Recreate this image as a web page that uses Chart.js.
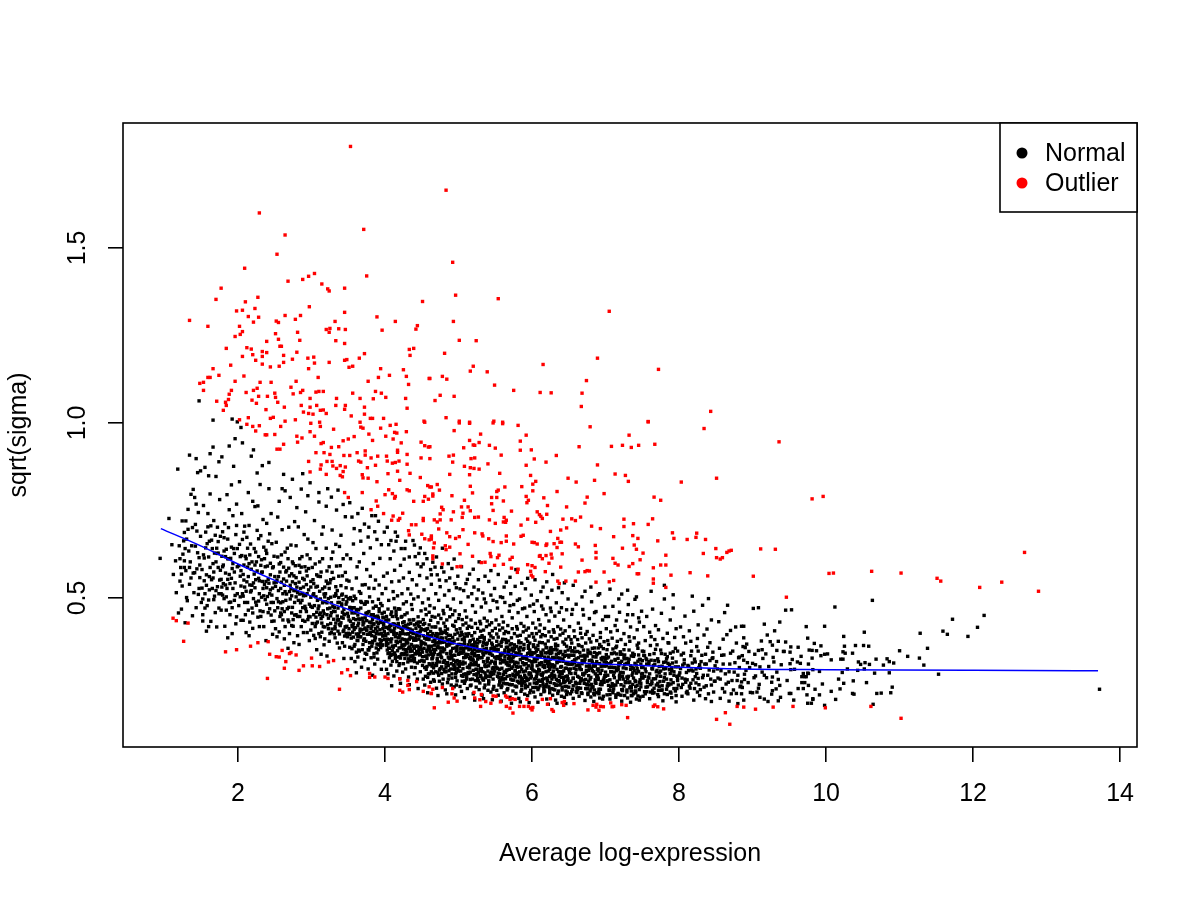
<!DOCTYPE html>
<html>
<head>
<meta charset="utf-8">
<script src="https://cdn.jsdelivr.net/npm/chart.js@4.4.0/dist/chart.umd.min.js"></script>
<style>
  html, body { margin: 0; padding: 0; background: #fff; }
  canvas { display: block; }
</style>
</head>
<body>
<canvas id="plot" width="1200" height="900"></canvas>
<script>
// axis ticks and labels
const xTicks = [2, 4, 6, 8, 10, 12, 14];
const xTickLabels = ['2', '4', '6', '8', '10', '12', '14'];
const yTicks = [0.5, 1.0, 1.5];
const yTickLabels = ['0.5', '1.0', '1.5'];
const seriesNames = ['Normal', 'Outlier'];

// lowess trend
const trendX = [0.95, 1.5, 2.0, 2.5, 3.0, 3.5, 4.0, 4.6, 5.3, 6.0, 6.65, 7.35, 8.0, 8.85, 10.0, 12.0, 13.7];
const trendY = [0.698, 0.648, 0.597, 0.55, 0.505, 0.467, 0.432, 0.389, 0.353, 0.331, 0.315, 0.308, 0.302, 0.297, 0.295, 0.293, 0.292];

// red points: [average log-expression, sqrt(sigma)]
const outlierPts = [
[3.53,1.79],[2.29,1.60],[3.71,1.553],[2.64,1.537],[2.53,1.482],[2.09,1.442],[3.75,1.42],[1.77,1.385],[2.68,1.405],[2.88,1.41],
[2.96,1.419],[3.04,1.427],[3.14,1.397],[3.22,1.383],[3.24,1.377],[3.45,1.385],[1.70,1.353],[2.27,1.359],[2.10,1.346],[4.51,1.347],
[1.34,1.293],[1.59,1.276],[1.98,1.32],[2.06,1.322],[2.23,1.327],[2.14,1.304],[2.28,1.302],[2.21,1.288],[2.02,1.276],[2.06,1.261],
[1.96,1.247],[2.03,1.253],[2.97,1.332],[2.64,1.307],[2.85,1.307],[2.78,1.296],[2.52,1.291],[2.55,1.287],[3.45,1.316],[3.89,1.303],
[4.14,1.29],[3.32,1.29],[3.20,1.267],[3.25,1.27],[3.37,1.269],[3.46,1.267],[3.24,1.259],[3.96,1.265],[4.42,1.268],[4.44,1.278],
[2.81,1.259],[2.51,1.255],[2.55,1.239],[2.84,1.236],[2.39,1.233],[3.33,1.235],[3.45,1.227],[2.57,1.219],[2.59,1.219],[1.84,1.213],
[2.12,1.215],[2.18,1.211],[2.33,1.204],[2.39,1.201],[2.20,1.195],[2.06,1.19],[2.33,1.19],[2.62,1.193],[2.80,1.202],[2.24,1.179],
[2.74,1.182],[2.95,1.185],[3.03,1.188],[3.24,1.173],[3.45,1.179],[3.48,1.181],[3.65,1.185],[3.72,1.198],[4.33,1.21],[4.39,1.213],
[4.34,1.193],[1.90,1.165],[2.33,1.168],[2.44,1.16],[2.56,1.162],[2.62,1.173],[3.04,1.171],[2.96,1.155],[3.51,1.159],[3.56,1.162],
[3.94,1.155],[4.25,1.152],[1.66,1.155],[1.74,1.136],[1.59,1.13],[1.62,1.13],[2.08,1.134],[1.96,1.119],[2.30,1.116],[2.45,1.116],
[2.79,1.119],[3.09,1.13],[3.91,1.13],[4.06,1.136],[4.29,1.133],[4.60,1.127],[3.77,1.119],[4.32,1.11],[1.48,1.113],[1.53,1.116],
[1.53,1.093],[1.91,1.093],[1.88,1.082],[1.87,1.067],[1.83,1.059],[1.84,1.05],[1.80,1.036],[1.71,1.062],[2.21,1.093],[2.26,1.099],
[2.11,1.087],[2.19,1.065],[2.25,1.056],[2.28,1.076],[2.40,1.076],[2.50,1.085],[2.51,1.073],[2.54,1.059],[2.72,1.102],[2.75,1.083],
[2.85,1.087],[2.88,1.093],[3.06,1.088],[3.10,1.09],[3.16,1.09],[2.98,1.07],[2.86,1.05],[2.98,1.045],[3.07,1.05],[2.63,1.045],
[2.38,1.038],[2.89,1.031],[2.96,1.027],[3.02,1.025],[3.12,1.036],[3.16,1.037],[3.20,1.027],[3.34,1.07],[3.33,1.05],[3.46,1.05],
[3.45,1.039],[3.56,1.085],[3.66,1.07],[3.72,1.045],[3.72,1.025],[3.84,1.069],[3.87,1.09],[3.95,1.085],[4.01,1.073],[4.28,1.07],
[4.30,1.042],[3.54,1.02],[3.80,1.013],[3.83,1.013],[3.98,1.013],[4.53,1.005],[2.02,1.009],[2.14,1.015],[2.44,1.013],[2.48,1.016],
[2.64,1.005],[2.78,1.009],[3.11,1.002],[3.66,1.002],
[4.83,1.665],[4.92,1.459],[4.96,1.365],[5.54,1.355],[7.05,1.319],[4.93,1.29],[5.01,1.236],[5.24,1.235],[4.81,1.199],[6.89,1.185],
[5.20,1.162],[5.16,1.148],[5.39,1.146],[6.15,1.167],[7.72,1.153],[4.61,1.127],[4.78,1.133],[4.84,1.125],[5.49,1.108],[5.75,1.093],
[6.11,1.087],[6.26,1.086],[6.74,1.121],[6.68,1.085],[6.67,1.047],[4.75,1.079],[4.94,1.076],[4.68,1.064],[8.43,1.033],[4.83,1.015],
[5.01,1.005],[5.15,1.002],[5.48,1.005],[5.60,1.002],[7.58,1.004],
[2.12,.996],[2.20,.99],[2.29,.992],[2.37,.966],[2.39,.966],[2.50,.967],[2.58,.99],[2.24,.977],[2.80,.962],[2.87,.957],
[2.81,.945],[2.98,.975],[3.04,.962],[2.99,.999],[3.12,.99],[3.16,.944],[3.13,.941],[3.30,.982],[3.43,.949],[3.50,.954],
[3.58,.961],[3.67,.988],[3.70,.985],[3.78,.968],[3.83,.95],[3.94,.985],[4.01,.962],[4.07,.993],[4.15,.996],[4.13,.973],
[4.16,.971],[4.29,.975],[4.11,.954],[4.22,.943],[4.49,.945],[4.54,.935],[4.59,.931],[4.54,1.002],[2.53,.925],[2.57,.925],
[2.62,.939],[3.06,.915],[3.17,.915],[3.25,.91],[3.37,.932],[3.27,.93],[3.44,.907],[3.52,.907],[3.62,.915],[3.73,.92],
[3.73,.908],[3.81,.9],[3.90,.905],[4.02,.905],[4.03,.891],[4.10,.885],[4.14,.887],[4.19,.891],[4.17,.922],[4.17,.916],
[4.30,.91],[4.30,.882],[4.49,.9],[2.96,.89],[2.98,.86],[3.13,.88],[3.12,.868],[3.21,.89],[3.28,.89],[3.20,.853],
[3.29,.877],[3.34,.87],[3.39,.878],[3.46,.874],[3.43,.861],[3.39,.85],[3.42,.846],[3.64,.891],[3.67,.888],[3.69,.852],
[3.70,.843],[3.77,.842],[3.89,.832],[3.76,.872],[3.87,.879],[4.04,.855],[4.17,.862],[4.20,.836],[4.34,.856],[4.48,.844],
[4.58,.821],[4.61,.817],[4.05,.809],[4.0,.795],[4.10,.798],[4.14,.79],[4.13,.785],[4.30,.809],[4.33,.806],[4.54,.79],
[4.52,.776],[4.59,.782],[3.45,.801],[3.50,.787],[3.69,.801],[3.88,.777],[3.90,.762],[3.81,.752],[4.39,.776],[3.98,.741],
[4.11,.734],[4.09,.722],[4.18,.722],[4.20,.727],[4.24,.742],[4.52,.727],[4.52,.721],[4.36,.709],[4.42,.709],[4.32,.692],
[4.33,.68],[4.50,.682],[4.54,.669],[4.63,.672],[4.60,.666],
[1.116,.442],[1.16,.435],[1.32,.428],[1.26,.376],[1.83,.346],[1.98,.352],[2.17,.362],[2.27,.372],[2.41,.375],[2.43,.339],
[2.52,.332],[2.56,.331],[2.60,.35],[2.70,.341],[2.72,.344],[2.79,.337],[2.65,.318],[2.63,.299],[2.40,.27],[2.83,.293],
[2.89,.306],[3.0,.328],[3.01,.306],[3.11,.304],[3.23,.317],[3.30,.321],[3.38,.239],[3.41,.286],[3.49,.295],[3.53,.278],
[3.79,.284],[3.86,.274],[3.79,.273],[4.0,.274],[4.04,.27],[4.20,.269],[4.31,.264],[4.31,.25],[4.43,.261],[4.20,.236],
[4.24,.231],[4.33,.238],[4.52,.233],[4.60,.246],[4.63,.227],
[5.01,1.0],[5.15,.999],[5.47,1.0],[5.60,.998],[5.81,.993],[4.94,.978],[5.30,.968],[5.92,.965],[6.79,.989],[7.58,1.003],
[8.34,.984],[7.32,.965],[5.15,.95],[5.28,.944],[5.22,.936],[5.20,.937],[5.42,.936],[5.50,.928],[5.84,.948],[5.84,.922],
[5.99,.923],[5.07,.929],[6.64,.932],[7.08,.933],[7.23,.936],[7.35,.93],[7.45,.936],[7.67,.939],[4.87,.905],[4.93,.908],
[4.92,.888],[5.17,.898],[5.22,.9],[5.58,.908],[6.03,.897],[6.19,.888],[6.33,.907],[5.08,.876],[5.16,.872],[5.21,.87],
[5.28,.868],[5.40,.883],[5.92,.879],[6.89,.88],[4.88,.853],[5.15,.852],[5.56,.856],[5.98,.85],[7.13,.854],[7.27,.85],
[7.31,.833],[6.49,.842],[6.60,.831],[6.85,.836],[6.05,.833],[6.01,.825],[8.03,.831],[8.51,.842],[4.71,.824],[4.63,.817],
[4.74,.808],[4.65,.797],[4.65,.791],[4.91,.792],[5.16,.819],[5.19,.80],[5.08,.779],[5.45,.787],[5.52,.787],[5.54,.808],
[5.52,.804],[5.45,.769],[5.47,.75],[5.61,.777],[5.63,.817],[5.86,.818],[6.01,.806],[5.92,.79],[5.95,.779],[5.93,.772],
[6.16,.786],[6.21,.764],[6.34,.804],[6.47,.76],[6.72,.771],[6.75,.788],[6.98,.798],[7.66,.788],[7.75,.779],[4.77,.759],
[4.79,.752],[4.75,.74],[4.75,.723],[4.67,.723],[4.71,.717],[4.61,.932],[4.61,.898],[4.93,.746],[5.04,.76],[5.06,.742],
[5.05,.73],[4.90,.723],[5.16,.749],[5.13,.76],[5.22,.73],[5.27,.731],[5.42,.723],[5.62,.73],[5.64,.716],[5.61,.717],
[5.65,.722],[5.72,.748],[5.50,.713],[5.85,.708],[5.94,.725],[6.05,.716],[6.07,.746],[6.12,.733],[6.14,.727],[6.20,.739],
[6.10,.738],[6.42,.725],[6.54,.726],[6.59,.721],[6.66,.731],[6.47,.70],[6.25,.69],[6.39,.694],[6.81,.705],[6.93,.698],
[7.25,.704],[7.25,.725],[7.38,.712],[7.58,.71],[7.64,.726],[4.73,.697],[4.84,.686],[4.63,.677],[4.63,.668],[4.96,.67],
[5.01,.675],[4.88,.675],[5.06,.695],[5.22,.686],[5.32,.683],[5.33,.677],[5.41,.669],[5.47,.661],[5.65,.677],[5.58,.658],
[5.65,.662],[5.85,.676],[5.88,.679],[5.75,.654],[6.0,.659],[6.03,.658],[6.07,.654],[6.19,.65],[6.20,.654],[6.30,.655],
[6.35,.67],[6.38,.659],[6.40,.659],[6.34,.644],[6.59,.654],[6.63,.646],[6.86,.65],[7.11,.675],[7.37,.678],[7.44,.67],
[7.39,.651],[7.42,.639],[7.23,.642],[7.71,.663],[7.91,.686],[7.93,.67],[8.11,.667],[8.24,.685],[8.23,.673],[8.36,.667],
[8.50,.641],[8.33,.627],[8.51,.615],[8.56,.611],[8.59,.615],[8.65,.63],[8.68,.634],[8.71,.636],[4.82,.649],[4.83,.638],
[4.67,.657],[4.66,.643],[4.88,.645],[5.02,.626],[5.13,.653],[5.19,.619],[5.31,.601],[5.36,.602],[5.43,.627],[5.44,.618],
[5.53,.615],[5.55,.622],[5.49,.593],[5.61,.596],[5.70,.61],[5.73,.616],[5.72,.585],[5.81,.582],[5.80,.573],[5.94,.595],
[6.0,.592],[6.04,.587],[5.98,.576],[5.99,.565],[6.01,.56],[6.10,.619],[6.11,.621],[6.19,.621],[6.14,.612],[6.23,.599],
[6.27,.614],[6.26,.625],[6.41,.626],[6.39,.588],[6.18,.575],[6.35,.548],[6.37,.541],[6.46,.548],[6.59,.548],[6.63,.574],
[6.72,.575],[6.75,.578],[6.78,.577],[6.68,.608],[6.87,.63],[6.87,.614],[6.98,.574],[6.87,.545],[7.05,.546],[7.11,.55],
[7.10,.613],[7.13,.599],[7.17,.594],[7.32,.59],[7.37,.598],[7.43,.569],[7.45,.569],[7.51,.628],[7.47,.609],[7.65,.586],
[7.65,.554],[7.65,.542],[7.75,.594],[7.82,.594],[7.82,.622],[7.89,.565],[7.82,.53],[8.15,.572],[8.39,.563],[4.65,.612],
[4.65,.62],[4.78,.597],[4.98,.589],[5.03,.59],
[4.65,.239],[4.63,.227],[4.78,.244],[4.67,.186],[4.91,.226],[4.92,.241],[4.94,.214],[4.98,.205],[4.86,.202],[5.21,.23],
[5.22,.214],[5.31,.224],[5.29,.209],[5.30,.19],[5.37,.204],[5.44,.199],[5.47,.22],[5.51,.219],[5.57,.203],[5.64,.22],
[5.66,.216],[5.65,.19],[5.70,.185],[5.74,.171],[5.73,.212],[5.70,.21],[5.77,.21],[5.83,.19],[5.89,.19],[5.95,.19],
[5.98,.185],[6.0,.18],[6.01,.187],[5.93,.21],[6.14,.21],[6.21,.196],[6.25,.212],[6.27,.181],[6.29,.176],[6.41,.201],
[6.44,.204],[6.57,.198],[6.43,.193],[6.76,.18],[6.83,.193],[6.88,.196],[6.87,.188],[6.91,.179],[6.93,.19],[6.97,.189],
[7.07,.2],[7.11,.19],[7.09,.189],[7.22,.195],[7.28,.193],[7.30,.158],[7.65,.19],[7.67,.194],[7.71,.189],[7.79,.183],
[8.51,.153],[8.63,.172],[8.69,.139],[8.79,.19],
[9.36,.946],[9.81,.783],[9.96,.79],[9.11,.64],[9.31,.639],[9.01,.562],[9.46,.502],[10.04,.57],[10.10,.571],[10.62,.576],
[11.02,.571],[11.51,.556],[11.56,.548],[12.09,.53],[12.39,.545],[12.70,.63],[12.89,.519],[8.88,.188],[9.04,.182],[9.28,.188],
[9.55,.19],[9.99,.186],[10.61,.19],[11.02,.156]
];

// black points: [average log-expression, sqrt(sigma)]
const normalPts = [
[.94,.613],[1.06,.727],[1.10,.652],[1.12,.567],[1.18,.868],[1.15,.606],[1.16,.515],[1.21,.548],[1.23,.468],[1.24,.72],
[1.27,.687],[1.30,.668],[1.32,.753],[1.25,.625],[1.27,.587],[1.34,.539],[1.38,.449],[1.39,.81],[1.41,.787],[1.43,.768],
[1.46,.744],[1.42,.71],[1.37,.649],[1.44,.691],[1.47,.615],[1.41,.572],[1.48,.558],[1.46,.51],[1.50,.487],[1.43,.472],
[1.34,.587],[1.30,.501],[1.23,.568],[1.20,.649],[1.29,.72],[1.36,.796],[1.49,.863],[1.34,.908],[1.43,.898],[1.27,.606],
[1.52,.434],[1.60,.418],[1.47,1.063],[1.66,1.008],[1.92,1.011],[1.99,1.003],[1.45,.858],[1.55,.873],[1.19,.457],[1.28,.429],
[1.52,.452],[1.55,.512],[1.58,.478],[1.61,.561],[1.63,.433],[1.66,.598],[1.68,.505],[1.71,.642],[1.74,.471],[1.77,.553],
[1.79,.689],[1.82,.419],[1.85,.527],[1.87,.612],[1.9,.488],[1.93,.735],[1.95,.574],[1.98,.446],[1.53,.623],[1.56,.688],
[1.59,.741],[1.62,.797],[1.64,.665],[1.67,.721],[1.7,.847],[1.72,.532],[1.75,.781],[1.78,.619],[1.81,.498],[1.83,.571],
[1.86,.668],[1.88,.752],[1.91,.823],[1.94,.641],[1.96,.507],[1.99,.589],[1.54,.549],[1.57,.405],[1.6,.494],[1.65,.527],
[1.69,.458],[1.73,.587],[1.76,.676],[1.8,.541],[1.84,.465],[1.89,.541],[1.92,.398],[1.97,.681],[1.51,.581],[1.58,.655],
[1.63,.706],[1.67,.574],[1.71,.417],[1.74,.512],[1.78,.903],[1.82,.712],[1.86,.386],[1.9,.613],[1.94,.876],[1.98,.768],
[1.53,.764],[1.6,.849],[1.66,.931],[1.72,.702],[1.77,.465],[1.81,.634],[1.85,.795],[1.89,.452],[1.93,.527],[1.97,.426],
[1.55,.471],[1.61,.523],[1.68,.628],[1.75,.551],[1.79,.589],[1.84,.503],[1.88,.567],[1.92,.584],[1.96,.955],[1.99,.512],
[1.62,.912],[1.74,.889],[1.88,.934],
[2.01,.478],[2.03,.562],[2.05,.621],[2.07,.436],[2.09,.705],[2.11,.519],[2.13,.588],[2.15,.392],[2.17,.654],[2.19,.471],
[2.21,.543],[2.23,.761],[2.25,.603],[2.27,.445],[2.29,.512],[2.31,.678],[2.33,.574],[2.35,.418],[2.37,.495],[2.39,.627],
[2.41,.553],[2.43,.469],[2.45,.741],[2.47,.586],[2.49,.434],[2.02,.832],[2.04,.987],[2.06,.512],[2.08,.594],[2.1,.452],
[2.12,.673],[2.14,.801],[2.16,.537],[2.18,.582],[2.2,.413],[2.22,.641],[2.24,.488],[2.26,.857],[2.28,.556],[2.3,.463],
[2.32,.609],[2.34,.724],[2.36,.538],[2.38,.378],[2.4,.591],[2.42,.812],[2.44,.523],[2.46,.655],[2.48,.487],[2.5,.561],
[2.02,.653],[2.05,.741],[2.08,.688],[2.11,.401],[2.14,.465],[2.17,.517],[2.2,.776],[2.23,.529],[2.26,.693],[2.29,.418],
[2.32,.502],[2.35,.645],[2.38,.547],[2.41,.458],[2.44,.599],[2.47,.396],[2.03,.503],[2.07,.567],[2.1,.619],[2.13,.487],
[2.16,.431],[2.19,.603],[2.22,.568],[2.25,.479],[2.28,.618],[2.31,.447],[2.34,.527],[2.37,.589],[2.4,.504],[2.43,.683],
[2.46,.433],[2.49,.619],[2.04,.436],[2.09,.531],[2.15,.707],[2.21,.923],[2.27,.763],[2.33,.878],[2.39,.713],[2.45,.487],
[2.06,.943],[2.18,.905],[2.3,.824],[2.42,.887],
[2.51,.412],[2.53,.498],[2.55,.561],[2.57,.447],[2.59,.623],[2.61,.512],[2.63,.383],[2.65,.574],[2.67,.469],[2.69,.702],
[2.71,.536],[2.73,.421],[2.75,.598],[2.77,.487],[2.79,.649],[2.81,.392],[2.83,.545],[2.85,.461],[2.87,.618],[2.89,.506],
[2.91,.433],[2.93,.577],[2.95,.668],[2.97,.482],[2.99,.531],[2.52,.659],[2.54,.731],[2.56,.403],[2.58,.527],[2.6,.469],
[2.62,.588],[2.64,.806],[2.66,.511],[2.68,.437],[2.7,.563],[2.72,.651],[2.74,.473],[2.76,.372],[2.78,.541],[2.8,.758],
[2.82,.493],[2.84,.612],[2.86,.418],[2.88,.556],[2.9,.681],[2.92,.469],[2.94,.401],[2.96,.523],[2.98,.612],[2.52,.545],
[2.55,.489],[2.58,.601],[2.61,.437],[2.64,.518],[2.67,.642],[2.7,.398],[2.73,.506],[2.76,.563],[2.79,.452],[2.82,.703],
[2.85,.527],[2.88,.436],[2.91,.589],[2.94,.512],[2.97,.378],[2.53,.389],[2.57,.574],[2.6,.695],[2.63,.461],[2.66,.548],
[2.69,.473],[2.72,.526],[2.75,.419],[2.78,.592],[2.81,.515],[2.84,.447],[2.87,.493],[2.9,.552],[2.93,.461],[2.96,.447],
[2.99,.408],[2.54,.617],[2.59,.452],[2.64,.418],[2.69,.585],[2.74,.546],[2.79,.503],[2.84,.573],[2.89,.401],[2.94,.623],
[2.99,.476],[2.56,.776],[2.62,.853],[2.71,.787],[2.77,.718],[2.86,.811],[2.92,.746],[2.98,.829],[2.68,.356],[2.83,.367],
[2.6,.812],[2.74,.839],[2.88,.855],[2.95,.792],
[3.01,.427],[3.03,.512],[3.05,.384],[3.07,.566],[3.09,.469],[3.11,.603],[3.13,.441],[3.15,.526],[3.17,.366],[3.19,.489],
[3.21,.577],[3.23,.412],[3.25,.543],[3.27,.458],[3.29,.631],[3.31,.397],[3.33,.507],[3.35,.448],[3.37,.562],[3.39,.421],
[3.41,.483],[3.43,.612],[3.45,.391],[3.47,.529],[3.49,.456],[3.02,.658],[3.04,.478],[3.06,.445],[3.08,.533],[3.1,.398],
[3.12,.497],[3.14,.682],[3.16,.463],[3.18,.417],[3.2,.548],[3.22,.469],[3.24,.376],[3.26,.502],[3.28,.573],[3.3,.439],
[3.32,.461],[3.34,.591],[3.36,.405],[3.38,.487],[3.4,.535],[3.42,.372],[3.44,.467],[3.46,.573],[3.48,.419],[3.5,.498],
[3.02,.552],[3.05,.597],[3.08,.431],[3.11,.519],[3.14,.402],[3.17,.455],[3.2,.642],[3.23,.498],[3.26,.427],[3.29,.476],
[3.32,.386],[3.35,.521],[3.38,.647],[3.41,.445],[3.44,.408],[3.47,.482],[3.03,.393],[3.06,.503],[3.09,.562],[3.12,.457],
[3.15,.612],[3.18,.383],[3.21,.452],[3.24,.527],[3.27,.401],[3.3,.556],[3.33,.428],[3.36,.471],[3.39,.592],[3.42,.511],
[3.45,.452],[3.48,.551],[3.04,.721],[3.1,.774],[3.16,.703],[3.22,.812],[3.28,.694],[3.34,.751],[3.4,.679],[3.46,.732],
[3.07,.352],[3.13,.339],[3.19,.512],[3.25,.471],[3.31,.505],[3.37,.438],[3.43,.495],[3.49,.389],[3.06,.641],[3.15,.486],
[3.24,.589],[3.33,.653],[3.42,.563],[3.48,.623],[3.12,.561],[3.27,.612],[3.38,.357],[3.21,.334],[3.44,.327],[3.01,.587],
[3.1,.801],[3.2,.762],[3.27,.788],[3.36,.808],[3.43,.767],
[3.51,.412],[3.52,.473],[3.54,.385],[3.55,.526],[3.57,.441],[3.58,.362],[3.6,.498],[3.61,.557],[3.63,.421],[3.64,.466],
[3.66,.389],[3.67,.513],[3.69,.442],[3.7,.367],[3.72,.482],[3.73,.538],[3.75,.408],[3.76,.457],[3.78,.351],[3.79,.503],
[3.81,.429],[3.82,.392],[3.84,.471],[3.85,.527],[3.87,.413],[3.88,.357],[3.9,.448],[3.91,.496],[3.93,.381],[3.94,.433],
[3.96,.512],[3.97,.366],[3.99,.459],[3.51,.548],[3.53,.433],[3.56,.402],[3.59,.457],[3.62,.379],[3.65,.603],[3.68,.409],
[3.71,.429],[3.74,.376],[3.77,.418],[3.8,.562],[3.83,.438],[3.86,.379],[3.89,.405],[3.92,.461],[3.95,.398],[3.98,.427],
[3.52,.359],[3.55,.457],[3.58,.505],[3.61,.345],[3.64,.397],[3.67,.471],[3.7,.423],[3.73,.342],[3.76,.488],[3.79,.397],
[3.82,.452],[3.85,.341],[3.88,.476],[3.91,.427],[3.94,.358],[3.97,.445],[3.53,.612],[3.57,.654],[3.62,.589],[3.66,.692],
[3.71,.627],[3.75,.581],[3.8,.643],[3.84,.598],[3.89,.667],[3.93,.613],[3.98,.562],[3.54,.327],[3.59,.318],[3.63,.331],
[3.68,.302],[3.72,.324],[3.77,.297],[3.81,.329],[3.86,.311],[3.9,.325],[3.95,.296],[3.99,.318],[3.56,.492],[3.6,.438],
[3.65,.518],[3.69,.537],[3.74,.456],[3.78,.528],[3.83,.489],[3.87,.551],[3.92,.537],[3.96,.478],[3.5,.399],[3.63,.378],
[3.71,.398],[3.79,.372],[3.84,.404],[3.91,.367],[3.97,.392],[3.57,.388],[3.66,.439],[3.75,.435],[3.82,.362],[3.89,.343],
[3.94,.484],[3.55,.731],[3.69,.756],[3.78,.702],[3.87,.735],[3.61,.286],[3.83,.279],[3.73,.414],[3.64,.351],[3.85,.425],
[3.52,.772],[3.58,.698],[3.63,.741],[3.67,.662],[3.72,.711],[3.77,.674],[3.82,.735],[3.86,.689],[3.91,.719],[3.95,.652],[3.99,.688],
[4.01,.392],[4.02,.437],[4.03,.351],[4.04,.468],[4.05,.412],[4.06,.329],[4.07,.381],[4.08,.453],[4.09,.404],[4.1,.362],
[4.11,.426],[4.12,.498],[4.13,.343],[4.14,.389],[4.15,.447],[4.16,.318],[4.17,.372],[4.18,.418],[4.19,.357],[4.2,.468],
[4.21,.401],[4.22,.338],[4.23,.383],[4.24,.429],[4.25,.312],[4.26,.365],[4.27,.452],[4.28,.397],[4.29,.346],[4.3,.414],
[4.31,.371],[4.32,.326],[4.33,.437],[4.34,.389],[4.35,.354],[4.36,.481],[4.37,.408],[4.38,.335],[4.39,.379],[4.4,.423],
[4.41,.301],[4.42,.362],[4.43,.394],[4.44,.341],[4.45,.446],[4.46,.382],[4.47,.319],[4.48,.358],[4.49,.412],[4.5,.371],
[4.01,.527],[4.03,.571],[4.05,.493],[4.07,.612],[4.09,.546],[4.11,.518],[4.13,.579],[4.15,.662],[4.17,.506],[4.19,.548],
[4.21,.593],[4.23,.512],[4.25,.557],[4.27,.641],[4.29,.489],[4.31,.526],[4.33,.573],[4.35,.511],[4.37,.552],[4.39,.497],
[4.41,.618],[4.43,.537],[4.45,.503],[4.47,.564],[4.49,.589],[4.02,.296],[4.04,.283],[4.08,.308],[4.12,.277],[4.16,.291],
[4.2,.269],[4.24,.288],[4.28,.297],[4.32,.274],[4.36,.302],[4.4,.283],[4.44,.268],[4.48,.289],[4.02,.364],[4.06,.418],
[4.1,.447],[4.14,.327],[4.18,.469],[4.22,.413],[4.26,.338],[4.3,.457],[4.34,.321],[4.38,.437],[4.42,.413],[4.46,.347],
[4.5,.321],[4.04,.341],[4.08,.374],[4.12,.396],[4.16,.421],[4.2,.332],[4.24,.364],[4.28,.422],[4.32,.398],[4.36,.331],
[4.4,.356],[4.44,.401],[4.48,.431],[4.03,.415],[4.07,.338],[4.11,.359],[4.15,.376],[4.19,.307],[4.23,.447],[4.27,.342],
[4.31,.317],[4.35,.402],[4.39,.326],[4.43,.427],[4.47,.391],[4.05,.652],[4.14,.688],[4.26,.611],[4.38,.664],[4.46,.627],
[4.09,.249],[4.21,.256],[4.33,.252],[4.45,.241],[4.13,.471],[4.25,.483],[4.37,.467],[4.49,.463],[4.18,.386],[4.41,.385],
[4.03,.702],[4.08,.664],[4.12,.634],[4.17,.676],[4.22,.641],[4.28,.662],[4.33,.617],[4.4,.651],[4.44,.597],[4.48,.643],
[4.51,.345],[4.52,.392],[4.53,.318],[4.54,.427],[4.55,.368],[4.56,.296],[4.57,.351],[4.58,.412],[4.59,.337],[4.6,.381],
[4.61,.309],[4.62,.436],[4.63,.362],[4.64,.327],[4.65,.398],[4.66,.285],[4.67,.344],[4.68,.417],[4.69,.371],[4.7,.312],
[4.71,.389],[4.72,.338],[4.73,.451],[4.74,.357],[4.75,.298],[4.76,.404],[4.77,.329],[4.78,.373],[4.79,.316],[4.8,.428],
[4.81,.352],[4.82,.291],[4.83,.386],[4.84,.341],[4.85,.411],[4.86,.307],[4.87,.365],[4.88,.326],[4.89,.393],[4.9,.348],
[4.91,.283],[4.92,.422],[4.93,.336],[4.94,.377],[4.95,.302],[4.96,.357],[4.97,.409],[4.98,.321],[4.99,.382],[5.0,.339],
[4.51,.486],[4.53,.523],[4.55,.468],[4.57,.557],[4.59,.497],[4.61,.478],[4.63,.539],[4.65,.602],[4.67,.471],[4.69,.512],
[4.71,.566],[4.73,.493],[4.75,.532],[4.77,.587],[4.79,.464],[4.81,.508],[4.83,.549],[4.85,.476],[4.87,.521],[4.89,.468],
[4.91,.584],[4.93,.497],[4.95,.463],[4.97,.529],[4.99,.562],[4.52,.268],[4.54,.251],[4.58,.273],[4.62,.259],[4.66,.266],
[4.7,.242],[4.74,.262],[4.78,.254],[4.82,.237],[4.86,.268],[4.9,.251],[4.94,.246],[4.98,.263],[4.52,.438],[4.56,.452],
[4.6,.423],[4.64,.447],[4.68,.445],[4.72,.429],[4.76,.441],[4.8,.455],[4.84,.437],[4.88,.446],[4.92,.452],[4.96,.433],
[5.0,.441],[4.53,.371],[4.57,.304],[4.61,.356],[4.65,.331],[4.69,.289],[4.73,.397],[4.77,.284],[4.81,.321],[4.85,.378],
[4.89,.297],[4.93,.308],[4.97,.288],[4.55,.407],[4.59,.283],[4.63,.392],[4.67,.379],[4.71,.359],[4.75,.372],[4.79,.401],
[4.83,.311],[4.87,.292],[4.91,.328],[4.95,.396],[4.99,.311],[4.54,.627],[4.62,.581],[4.7,.617],[4.78,.642],[4.86,.598],
[4.94,.611],[4.58,.229],[4.72,.221],[4.84,.226],[4.96,.223],[4.56,.334],[4.64,.305],[4.72,.363],[4.8,.296],[4.88,.369],
[4.96,.318],[4.6,.459],[4.68,.392],[4.76,.348],[4.84,.398],[4.92,.371],[4.57,.382],[4.66,.353],[4.74,.317],[4.82,.418],
[4.52,.597],[4.57,.612],[4.63,.566],[4.68,.588],[4.74,.551],[4.8,.574],[4.88,.557],[4.95,.541],
[5.01,.318],[5.02,.367],[5.03,.291],[5.04,.402],[5.05,.342],[5.06,.276],[5.07,.329],[5.08,.388],[5.09,.314],[5.1,.357],
[5.11,.282],[5.12,.413],[5.13,.338],[5.14,.302],[5.15,.374],[5.16,.267],[5.17,.323],[5.18,.392],[5.19,.348],[5.2,.293],
[5.21,.366],[5.22,.314],[5.23,.427],[5.24,.334],[5.25,.279],[5.26,.381],[5.27,.307],[5.28,.351],[5.29,.296],[5.3,.405],
[5.31,.329],[5.32,.271],[5.33,.363],[5.34,.318],[5.35,.387],[5.36,.286],[5.37,.343],[5.38,.304],[5.39,.371],[5.4,.327],
[5.41,.263],[5.42,.398],[5.43,.314],[5.44,.355],[5.45,.281],[5.46,.336],[5.47,.386],[5.48,.299],[5.49,.359],[5.5,.317],
[5.01,.452],[5.03,.487],[5.05,.438],[5.07,.521],[5.09,.463],[5.11,.445],[5.13,.503],[5.15,.568],[5.17,.437],[5.19,.478],
[5.21,.531],[5.23,.459],[5.25,.497],[5.27,.552],[5.29,.433],[5.31,.474],[5.33,.514],[5.35,.442],[5.37,.486],[5.39,.434],
[5.41,.547],[5.43,.463],[5.45,.429],[5.47,.493],[5.49,.527],[5.02,.247],[5.04,.233],[5.08,.256],[5.12,.241],[5.16,.249],
[5.2,.226],[5.24,.245],[5.28,.238],[5.32,.222],[5.36,.251],[5.4,.236],[5.44,.231],[5.48,.247],[5.02,.412],[5.06,.423],
[5.1,.397],[5.14,.419],[5.18,.416],[5.22,.401],[5.26,.413],[5.3,.426],[5.34,.408],[5.38,.418],[5.42,.423],[5.46,.406],
[5.5,.413],[5.03,.346],[5.07,.281],[5.11,.332],[5.15,.308],[5.19,.268],[5.23,.371],[5.27,.263],[5.31,.298],[5.35,.353],
[5.39,.276],[5.43,.285],[5.47,.268],[5.05,.381],[5.09,.263],[5.13,.366],[5.17,.354],[5.21,.336],[5.25,.348],[5.29,.375],
[5.33,.289],[5.37,.272],[5.41,.306],[5.45,.371],[5.49,.291],[5.04,.589],[5.12,.553],[5.2,.582],[5.28,.603],[5.36,.562],
[5.44,.578],[5.08,.215],[5.22,.208],[5.34,.212],[5.46,.209],[5.06,.311],[5.14,.284],[5.22,.341],[5.3,.276],[5.38,.346],
[5.46,.297],[5.1,.428],[5.18,.365],[5.26,.325],[5.34,.373],[5.42,.347],[5.07,.356],[5.16,.331],[5.24,.296],[5.32,.392],
[5.02,.526],[5.1,.541],[5.18,.512],[5.27,.523],[5.35,.497],[5.44,.508],
[5.51,.302],[5.52,.351],[5.53,.276],[5.54,.388],[5.55,.327],[5.56,.262],[5.57,.314],[5.58,.373],[5.59,.299],[5.6,.342],
[5.61,.268],[5.62,.398],[5.63,.323],[5.64,.287],[5.65,.359],[5.66,.255],[5.67,.308],[5.68,.377],[5.69,.333],[5.7,.278],
[5.71,.351],[5.72,.299],[5.73,.412],[5.74,.319],[5.75,.265],[5.76,.366],[5.77,.292],[5.78,.336],[5.79,.281],[5.8,.391],
[5.81,.314],[5.82,.258],[5.83,.348],[5.84,.303],[5.85,.372],[5.86,.271],[5.87,.328],[5.88,.289],[5.89,.356],[5.9,.312],
[5.91,.251],[5.92,.383],[5.93,.299],[5.94,.341],[5.95,.267],[5.96,.321],[5.97,.371],[5.98,.284],[5.99,.344],[6.0,.302],
[5.51,.437],[5.53,.471],[5.55,.423],[5.57,.503],[5.59,.447],[5.61,.431],[5.63,.487],[5.65,.545],[5.67,.421],[5.69,.462],
[5.71,.512],[5.73,.443],[5.75,.481],[5.77,.533],[5.79,.418],[5.81,.458],[5.83,.497],[5.85,.427],[5.87,.469],[5.89,.419],
[5.91,.526],[5.93,.447],[5.95,.414],[5.97,.477],[5.99,.508],[5.52,.236],[5.54,.222],[5.58,.244],[5.62,.229],[5.66,.237],
[5.7,.216],[5.74,.234],[5.78,.227],[5.82,.213],[5.86,.239],[5.9,.225],[5.94,.221],[5.98,.236],[5.52,.397],[5.56,.408],
[5.6,.382],[5.64,.404],[5.68,.401],[5.72,.386],[5.76,.398],[5.8,.411],[5.84,.393],[5.88,.403],[5.92,.408],[5.96,.391],
[6.0,.398],[5.53,.332],[5.57,.266],[5.61,.317],[5.65,.293],[5.69,.253],[5.73,.356],[5.77,.248],[5.81,.283],[5.85,.338],
[5.89,.261],[5.93,.271],[5.97,.254],[5.55,.366],[5.59,.249],[5.63,.351],[5.67,.339],[5.71,.321],[5.75,.333],[5.79,.361],
[5.83,.274],[5.87,.257],[5.91,.291],[5.95,.356],[5.99,.276],[5.54,.567],[5.62,.531],[5.7,.559],[5.78,.581],[5.86,.542],
[5.94,.556],[5.58,.205],[5.72,.199],[5.84,.203],[5.96,.201],[5.56,.296],[5.64,.269],[5.72,.326],[5.8,.262],[5.88,.331],
[5.96,.282],[5.6,.414],[5.68,.351],[5.76,.311],[5.84,.359],[5.92,.333],[5.57,.341],[5.66,.316],[5.74,.282],[5.82,.377],
[5.52,.489],[5.6,.501],[5.7,.478],[5.8,.493],[5.9,.471],
[6.01,.294],[6.02,.343],[6.03,.268],[6.04,.379],[6.05,.318],[6.06,.255],[6.07,.306],[6.08,.364],[6.09,.291],[6.1,.333],
[6.11,.262],[6.12,.389],[6.13,.315],[6.14,.279],[6.15,.351],[6.16,.248],[6.17,.301],[6.18,.368],[6.19,.325],[6.2,.271],
[6.21,.343],[6.22,.291],[6.23,.403],[6.24,.311],[6.25,.258],[6.26,.358],[6.27,.284],[6.28,.328],[6.29,.274],[6.3,.382],
[6.31,.306],[6.32,.251],[6.33,.339],[6.34,.296],[6.35,.364],[6.36,.264],[6.37,.319],[6.38,.282],[6.39,.347],[6.4,.304],
[6.41,.245],[6.42,.374],[6.43,.291],[6.44,.333],[6.45,.261],[6.46,.313],[6.47,.362],[6.48,.277],[6.49,.336],[6.5,.295],
[6.01,.428],[6.03,.461],[6.05,.414],[6.07,.492],[6.09,.438],[6.11,.423],[6.13,.477],[6.15,.531],[6.17,.413],[6.19,.452],
[6.21,.501],[6.23,.434],[6.25,.471],[6.27,.522],[6.29,.409],[6.31,.448],[6.33,.486],[6.35,.418],[6.37,.459],[6.39,.411],
[6.41,.515],[6.43,.437],[6.45,.406],[6.47,.466],[6.49,.497],[6.02,.231],[6.04,.217],[6.08,.238],[6.12,.224],[6.16,.232],
[6.2,.211],[6.24,.229],[6.28,.222],[6.32,.208],[6.36,.234],[6.4,.219],[6.44,.216],[6.48,.231],[6.02,.388],[6.06,.398],
[6.1,.373],[6.14,.395],[6.18,.392],[6.22,.377],[6.26,.389],[6.3,.402],[6.34,.384],[6.38,.394],[6.42,.399],[6.46,.382],
[6.5,.389],[6.03,.324],[6.07,.259],[6.11,.309],[6.15,.286],[6.19,.246],[6.23,.348],[6.27,.241],[6.31,.276],[6.35,.329],
[6.39,.254],[6.43,.264],[6.47,.247],[6.05,.357],[6.09,.243],[6.13,.342],[6.17,.331],[6.21,.313],[6.25,.325],[6.29,.352],
[6.33,.267],[6.37,.251],[6.41,.284],[6.45,.347],[6.49,.269],[6.04,.552],[6.12,.518],[6.2,.546],[6.28,.567],[6.36,.529],
[6.44,.543],[6.08,.202],[6.22,.196],[6.34,.199],[6.46,.198],[6.06,.289],[6.14,.262],[6.22,.318],[6.3,.255],[6.38,.323],
[6.46,.275],[6.1,.405],[6.18,.343],[6.26,.303],[6.34,.351],[6.42,.324],[6.07,.333],[6.16,.308],[6.24,.275],[6.32,.368],
[6.02,.482],[6.15,.468],[6.26,.461],[6.4,.472],
[6.51,.287],[6.52,.336],[6.53,.262],[6.54,.371],[6.55,.311],[6.56,.249],[6.57,.299],[6.58,.357],[6.59,.285],[6.6,.326],
[6.61,.256],[6.62,.381],[6.63,.308],[6.64,.273],[6.65,.344],[6.66,.242],[6.67,.295],[6.68,.361],[6.69,.318],[6.7,.265],
[6.71,.336],[6.72,.285],[6.73,.396],[6.74,.305],[6.75,.252],[6.76,.351],[6.77,.278],[6.78,.321],[6.79,.268],[6.8,.374],
[6.81,.299],[6.82,.245],[6.83,.332],[6.84,.289],[6.85,.357],[6.86,.258],[6.87,.312],[6.88,.276],[6.89,.341],[6.9,.297],
[6.91,.239],[6.92,.367],[6.93,.284],[6.94,.327],[6.95,.254],[6.96,.306],[6.97,.355],[6.98,.271],[6.99,.329],[7.0,.288],
[6.51,.418],[6.54,.453],[6.57,.406],[6.6,.482],[6.63,.428],[6.66,.413],[6.69,.467],[6.72,.519],[6.75,.404],[6.78,.441],
[6.81,.489],[6.84,.424],[6.87,.461],[6.9,.508],[6.93,.401],[6.96,.437],[6.99,.474],[6.52,.226],[6.56,.213],[6.6,.233],
[6.64,.219],[6.68,.227],[6.72,.207],[6.76,.224],[6.8,.217],[6.84,.204],[6.88,.229],[6.92,.214],[6.96,.211],[6.53,.381],
[6.58,.389],[6.63,.366],[6.68,.386],[6.73,.371],[6.78,.383],[6.83,.393],[6.88,.378],[6.93,.387],[6.98,.375],[6.55,.318],
[6.6,.254],[6.65,.302],[6.7,.281],[6.75,.241],[6.8,.341],[6.85,.237],[6.9,.271],[6.95,.323],[6.54,.348],[6.62,.238],
[6.7,.334],[6.78,.251],[6.86,.305],[6.94,.261],[6.56,.536],[6.68,.503],[6.8,.531],[6.92,.512],[6.58,.315],[6.74,.293],
[6.9,.357],[6.66,.399],[6.82,.317],[6.55,.467],[6.7,.451],[6.85,.458],
[7.01,.338],[7.02,.262],[7.04,.367],[7.05,.301],[7.07,.247],[7.08,.319],[7.1,.354],[7.11,.279],[7.13,.322],[7.14,.251],
[7.16,.376],[7.17,.298],[7.19,.268],[7.2,.339],[7.22,.238],[7.23,.287],[7.25,.352],[7.26,.309],[7.28,.259],[7.29,.327],
[7.31,.276],[7.32,.389],[7.34,.296],[7.35,.244],[7.37,.342],[7.38,.271],[7.4,.313],[7.41,.261],[7.43,.365],[7.44,.291],
[7.46,.238],[7.47,.324],[7.49,.282],[7.5,.348],[7.01,.412],[7.04,.447],[7.07,.403],[7.1,.476],[7.13,.421],[7.16,.407],
[7.19,.459],[7.22,.511],[7.25,.398],[7.28,.434],[7.31,.481],[7.34,.417],[7.37,.452],[7.4,.496],[7.43,.409],[7.46,.431],
[7.49,.462],[7.02,.223],[7.06,.211],[7.1,.229],[7.14,.216],[7.18,.224],[7.22,.205],[7.26,.221],[7.3,.214],[7.34,.202],
[7.38,.226],[7.42,.211],[7.46,.208],[7.03,.378],[7.09,.385],[7.15,.362],[7.21,.381],[7.27,.367],[7.33,.376],[7.39,.386],
[7.45,.371],[7.05,.312],[7.11,.251],[7.17,.296],[7.23,.276],[7.29,.237],[7.35,.334],[7.41,.234],[7.47,.266],[7.08,.289],
[7.2,.314],[7.32,.258],[7.44,.319],[7.06,.525],[7.18,.497],[7.3,.522],[7.42,.503],[7.12,.343],[7.24,.268],[7.36,.301],
[7.48,.246],[7.0,.447],[7.15,.437],[7.3,.452],[7.45,.443],
[7.51,.271],[7.53,.335],[7.55,.289],[7.57,.246],[7.59,.318],[7.61,.364],[7.63,.262],[7.65,.307],[7.67,.381],[7.69,.251],
[7.71,.326],[7.73,.286],[7.75,.351],[7.77,.237],[7.79,.297],[7.81,.339],[7.83,.268],[7.85,.372],[7.87,.309],[7.89,.254],
[7.91,.328],[7.93,.279],[7.95,.356],[7.97,.241],[7.99,.303],[7.52,.418],[7.56,.447],[7.6,.402],[7.64,.468],[7.68,.421],
[7.72,.409],[7.76,.456],[7.8,.497],[7.84,.399],[7.88,.437],[7.92,.471],[7.96,.412],[7.54,.226],[7.6,.212],[7.66,.229],
[7.72,.218],[7.78,.206],[7.84,.224],[7.9,.215],[7.96,.203],[7.54,.378],[7.62,.389],[7.7,.366],[7.78,.384],[7.86,.371],
[7.94,.387],[7.58,.274],[7.66,.341],[7.74,.261],[7.82,.317],[7.9,.293],[7.98,.348],[7.56,.311],[7.7,.293],[7.84,.248],
[7.98,.271],[7.62,.519],[7.8,.536],[7.92,.509],[7.64,.236],[7.88,.342],
[8.01,.286],[8.03,.337],[8.05,.253],[8.07,.312],[8.09,.371],[8.11,.266],[8.13,.304],[8.15,.242],[8.17,.348],[8.19,.291],
[8.21,.325],[8.23,.257],[8.25,.384],[8.27,.301],[8.29,.238],[8.31,.336],[8.33,.279],[8.35,.311],[8.37,.249],[8.39,.359],
[8.41,.294],[8.43,.268],[8.45,.327],[8.47,.231],[8.49,.306],[8.02,.417],[8.08,.448],[8.14,.406],[8.2,.462],[8.26,.423],
[8.32,.479],[8.38,.411],[8.44,.437],[8.04,.219],[8.12,.226],[8.2,.208],[8.28,.221],[8.36,.212],[8.44,.204],[8.06,.389],
[8.16,.376],[8.24,.361],[8.34,.394],[8.42,.372],[8.1,.287],[8.22,.275],[8.3,.318],[8.46,.345],[8.18,.505],[8.4,.498],
[8.48,.262],
[8.51,.318],[8.53,.271],[8.55,.356],[8.57,.292],[8.59,.241],[8.61,.337],[8.63,.283],[8.65,.395],[8.67,.259],[8.69,.311],
[8.71,.226],[8.73,.348],[8.75,.288],[8.77,.417],[8.79,.264],[8.81,.329],[8.83,.246],[8.54,.432],[8.62,.458],[8.7,.407],
[8.78,.371],[8.56,.213],[8.68,.205],[8.8,.198],[8.6,.382],[8.74,.237],[8.66,.479],[8.82,.301],
[10.63,.493],[10.12,.474],[9.01,.47],[9.08,.472],[9.45,.465],[9.53,.466],[9.37,.431],[9.16,.425],[9.30,.406],[9.73,.418],
[9.98,.419],[10.24,.39],[10.52,.402],[11.28,.399],[11.59,.405],[11.65,.396],[11.72,.439],[11.93,.39],[12.06,.416],[12.15,.45],
[11.38,.356],[11.27,.328],[11.33,.308],[11.53,.282],[11.11,.333],[11.0,.349],[13.72,.239],[10.9,.245],[10.88,.229],[10.75,.228],
[10.69,.227],[10.64,.196],[10.55,.258],[10.66,.285],[10.86,.286],[10.92,.314],[10.86,.318],[10.83,.326],[10.68,.325],[10.78,.308],
[10.51,.364],[10.58,.362],[10.4,.364],[10.36,.342],[10.44,.317],[10.53,.315],[10.59,.31],[10.47,.31],[10.52,.297],[10.43,.293],
[10.37,.263],[10.36,.227],[10.38,.225],[10.24,.256],[10.19,.24],[10.13,.21],[10.07,.233],[9.98,.193],[9.91,.223],[9.95,.254],
[9.85,.239],[9.8,.199],[9.75,.199],[9.82,.212],[9.74,.223],[10.2,.325],[10.23,.325],[10.22,.287],[10.29,.297],[10.26,.342],
[10.23,.346],[10.25,.362],[10.17,.268],[10.07,.323],[10.02,.34],[9.98,.339],[9.93,.363],[9.93,.335],[9.87,.349],[9.84,.37],
[9.81,.35],[9.77,.351],[9.81,.328],[9.76,.311],[9.82,.295],[9.91,.29],[9.75,.285],[9.73,.275],[9.75,.385],[9.62,.359],
[9.52,.36],[9.66,.333],[9.61,.317],[9.65,.313],[9.51,.312],[9.54,.324],[9.57,.296],[9.52,.295],[9.69,.284],[9.76,.284],
[9.67,.275],[9.71,.275],[9.67,.258],[9.71,.258],[9.62,.241],[9.69,.241],[9.76,.25],[9.5,.227],[9.52,.227],[9.56,.208],
[9.47,.264],[9.45,.374],[9.43,.347],[9.35,.376],[9.51,.345],[9.27,.365],[9.24,.375],[9.2,.394],[9.12,.377],[9.33,.35],
[9.28,.33],[9.29,.317],[9.22,.304],[9.33,.288],[9.27,.274],[9.26,.259],[9.35,.267],[9.37,.25],[9.27,.235],[9.32,.24],
[9.26,.225],[9.38,.216],[9.35,.206],[9.21,.204],[9.16,.211],[9.1,.216],[9.06,.231],[8.88,.208],[8.85,.226],[8.97,.23],
[9.0,.229],[9.09,.253],[9.08,.242],[9.04,.277],[9.02,.272],[8.89,.267],[8.89,.282],[8.94,.258],[9.1,.303],[9.16,.279],
[9.19,.272],[9.13,.288],[9.0,.313],[9.04,.309],[9.14,.327],[9.03,.339],[9.18,.34],[9.08,.35],[9.13,.352],[8.87,.361],
[8.9,.358],[8.92,.368],[8.88,.386],[8.85,.419],[8.88,.419],[8.86,.335],[8.88,.322],[8.95,.347],[8.93,.315],[8.96,.301],
[8.91,.293],[8.85,.26],[8.86,.244],[9.39,.309],[9.42,.347],[9.82,.21],
// denser core
[1.21,.612],[1.24,.534],[1.26,.663],[1.29,.578],[1.31,.492],[1.33,.634],[1.36,.557],[1.38,.701],[1.4,.515],[1.42,.648],
[1.44,.583],[1.47,.527],[1.49,.676],[1.22,.587],[1.28,.641],[1.35,.603],[1.39,.571],[1.45,.629],[1.48,.594],[1.32,.696],
[1.51,.528],[1.54,.614],[1.57,.566],[1.59,.703],[1.62,.587],[1.65,.641],[1.67,.495],[1.7,.603],[1.73,.661],[1.76,.579],
[1.78,.531],[1.81,.672],[1.83,.618],[1.86,.553],[1.88,.487],[1.91,.645],[1.93,.598],[1.96,.543],[1.98,.707],[1.56,.643],
[1.64,.552],[1.72,.627],[1.8,.594],[1.87,.701],[1.95,.627],[1.69,.679],[1.77,.512],[1.84,.639],[1.92,.472],[1.6,.617],
[2.01,.592],[2.04,.534],[2.06,.667],[2.09,.487],[2.11,.612],[2.14,.561],[2.16,.623],[2.19,.536],[2.21,.498],[2.24,.631],
[2.26,.577],[2.29,.549],[2.31,.593],[2.34,.461],[2.36,.612],[2.39,.529],[2.41,.662],[2.44,.566],[2.46,.508],[2.49,.543],
[2.03,.618],[2.08,.551],[2.13,.642],[2.18,.521],[2.23,.594],[2.28,.669],[2.33,.547],[2.38,.636],[2.43,.512],[2.48,.589],
[2.51,.533],[2.54,.472],[2.56,.597],[2.59,.545],[2.61,.489],[2.64,.631],[2.66,.578],[2.69,.432],[2.71,.497],[2.74,.603],
[2.76,.521],[2.79,.558],[2.81,.447],[2.84,.511],[2.86,.588],[2.89,.531],[2.91,.476],[2.94,.563],[2.96,.584],[2.99,.502],
[2.53,.551],[2.58,.486],[2.63,.536],[2.68,.612],[2.73,.457],[2.78,.521],[2.83,.593],[2.88,.472],[2.93,.538],[2.98,.446],
[3.01,.473],[3.03,.541],[3.06,.427],[3.08,.493],[3.11,.452],[3.13,.574],[3.16,.418],[3.18,.531],[3.21,.486],[3.23,.442],
[3.26,.552],[3.28,.411],[3.31,.473],[3.33,.532],[3.36,.437],[3.38,.397],[3.41,.508],[3.43,.442],[3.46,.417],[3.48,.489],
[3.02,.508],[3.07,.459],[3.12,.389],[3.17,.511],[3.22,.423],[3.27,.486],[3.32,.418],[3.37,.501],[3.42,.459],[3.47,.398],
[3.51,.437],[3.53,.501],[3.56,.418],[3.58,.472],[3.61,.397],[3.63,.451],[3.66,.411],[3.68,.487],[3.71,.379],[3.73,.443],
[3.76,.396],[3.78,.461],[3.81,.412],[3.83,.371],[3.86,.447],[3.88,.398],[3.91,.443],[3.93,.409],[3.96,.364],[3.98,.422],
[3.52,.396],[3.57,.426],[3.62,.467],[3.67,.389],[3.72,.411],[3.77,.352],[3.82,.419],[3.87,.386],[3.92,.397],[3.97,.412],
[3.54,.466],[3.64,.428],[3.74,.489],[3.84,.452],[3.94,.371],[3.59,.367],[3.69,.352],[3.79,.431],[3.89,.431],[3.99,.381],
[4.01,.416],[4.02,.373],[4.04,.398],[4.06,.356],[4.07,.422],[4.09,.383],[4.11,.339],[4.12,.407],[4.14,.364],[4.16,.398],
[4.17,.349],[4.19,.417],[4.21,.376],[4.22,.358],[4.24,.398],[4.26,.381],[4.27,.327],[4.29,.372],[4.31,.397],[4.32,.356],
[4.34,.411],[4.36,.367],[4.37,.348],[4.39,.398],[4.41,.341],[4.42,.382],[4.44,.362],[4.46,.401],[4.47,.337],[4.49,.376],
[4.03,.381],[4.08,.336],[4.13,.425],[4.18,.331],[4.23,.366],[4.28,.352],[4.33,.382],[4.38,.362],[4.43,.347],[4.48,.341],
[4.05,.437],[4.15,.462],[4.25,.418],[4.35,.427],[4.45,.422],[4.1,.319],[4.2,.312],[4.3,.337],[4.4,.318],[4.5,.353],
[4.51,.332],[4.53,.356],[4.54,.301],[4.56,.383],[4.57,.327],[4.59,.362],[4.6,.312],[4.62,.347],[4.63,.289],[4.65,.376],
[4.66,.339],[4.68,.307],[4.69,.352],[4.71,.327],[4.72,.286],[4.74,.381],[4.75,.341],[4.77,.303],[4.78,.357],[4.8,.317],
[4.81,.374],[4.83,.289],[4.84,.362],[4.86,.331],[4.87,.278],[4.89,.346],[4.9,.312],[4.92,.356],[4.93,.297],[4.95,.336],
[4.96,.273],[4.98,.352],[4.99,.298],[4.52,.409],[4.58,.391],[4.64,.417],[4.7,.398],[4.76,.386],[4.82,.402],[4.88,.381],
[4.94,.419],[5.0,.367],[4.55,.276],[4.61,.284],[4.67,.262],[4.73,.279],[4.79,.268],[4.85,.258],[4.91,.271],[4.97,.251],
[5.01,.341],[5.03,.312],[5.04,.366],[5.06,.298],[5.07,.347],[5.09,.283],[5.1,.336],[5.12,.302],[5.13,.359],[5.15,.327],
[5.16,.288],[5.18,.341],[5.19,.309],[5.21,.281],[5.22,.352],[5.24,.316],[5.25,.361],[5.27,.287],[5.28,.329],[5.3,.298],
[5.31,.351],[5.33,.268],[5.34,.337],[5.36,.309],[5.37,.279],[5.39,.322],[5.4,.291],[5.42,.341],[5.43,.276],[5.45,.319],
[5.46,.357],[5.48,.283],[5.49,.331],[5.02,.392],[5.08,.378],[5.14,.398],[5.2,.382],[5.26,.371],[5.32,.388],[5.38,.367],
[5.44,.391],[5.5,.352],[5.05,.262],[5.11,.268],[5.17,.251],[5.23,.264],[5.29,.257],[5.35,.243],[5.41,.254],[5.47,.239],
[5.51,.327],[5.53,.299],[5.54,.352],[5.56,.283],[5.57,.334],[5.59,.272],[5.6,.321],[5.62,.289],[5.63,.344],[5.65,.312],
[5.66,.276],[5.68,.327],[5.69,.296],[5.71,.268],[5.72,.339],[5.74,.303],[5.75,.348],[5.77,.274],[5.78,.316],[5.8,.286],
[5.81,.337],[5.83,.257],[5.84,.324],[5.86,.296],[5.87,.268],[5.89,.309],[5.9,.279],[5.92,.327],[5.93,.264],[5.95,.306],
[5.96,.343],[5.98,.271],[5.99,.318],[5.52,.376],[5.58,.362],[5.64,.381],[5.7,.366],[5.76,.357],[5.82,.372],[5.88,.352],
[5.94,.376],[6.0,.338],[5.55,.251],[5.61,.257],[5.67,.241],[5.73,.252],[5.79,.246],[5.85,.233],[5.91,.243],[5.97,.229],
[6.01,.318],[6.03,.291],[6.04,.343],[6.06,.276],[6.07,.326],[6.09,.265],[6.1,.313],[6.12,.282],[6.13,.336],[6.15,.304],
[6.16,.269],[6.18,.319],[6.19,.289],[6.21,.262],[6.22,.331],[6.24,.296],[6.25,.341],[6.27,.268],[6.28,.309],[6.3,.279],
[6.31,.329],[6.33,.251],[6.34,.317],[6.36,.289],[6.37,.262],[6.39,.302],[6.4,.273],[6.42,.319],[6.43,.258],[6.45,.299],
[6.46,.336],[6.48,.265],[6.49,.311],[6.02,.366],[6.08,.353],[6.14,.372],[6.2,.358],[6.26,.349],[6.32,.363],[6.38,.344],
[6.44,.368],[6.5,.331],[6.05,.244],[6.11,.249],[6.17,.234],[6.23,.246],[6.29,.239],[6.35,.227],[6.41,.237],[6.47,.224],
[6.51,.311],[6.53,.284],[6.54,.336],[6.56,.27],[6.57,.319],[6.59,.259],[6.6,.306],[6.62,.276],[6.63,.329],[6.65,.297],
[6.66,.263],[6.68,.312],[6.69,.283],[6.71,.256],[6.72,.324],[6.74,.29],[6.75,.334],[6.77,.262],[6.78,.302],[6.8,.273],
[6.81,.322],[6.83,.246],[6.84,.31],[6.86,.283],[6.87,.256],[6.89,.296],[6.9,.267],[6.92,.312],[6.93,.253],[6.95,.293],
[6.96,.329],[6.98,.259],[6.99,.305],[6.52,.358],[6.58,.346],[6.64,.364],[6.7,.351],[6.76,.342],[6.82,.356],[6.88,.338],
[6.94,.361],[7.0,.325],[6.55,.239],[6.61,.243],[6.67,.229],[6.73,.241],[6.79,.234],[6.85,.223],[6.91,.232],[6.97,.219],
[7.01,.306],[7.03,.279],[7.04,.331],[7.06,.266],[7.07,.314],[7.09,.255],[7.1,.301],[7.12,.272],[7.13,.324],[7.15,.292],
[7.16,.259],[7.18,.307],[7.19,.279],[7.21,.252],[7.22,.319],[7.24,.286],[7.25,.329],[7.27,.258],[7.28,.298],[7.3,.269],
[7.31,.317],[7.33,.243],[7.34,.306],[7.36,.279],[7.37,.253],[7.39,.292],[7.4,.264],[7.42,.308],[7.43,.25],[7.45,.289],
[7.46,.324],[7.48,.256],[7.49,.301],[7.02,.352],[7.08,.341],[7.14,.358],[7.2,.346],[7.26,.337],[7.32,.351],[7.38,.333],
[7.44,.356],[7.5,.321],[7.05,.236],[7.11,.24],[7.17,.227],[7.23,.238],[7.29,.231],[7.35,.221],[7.41,.229],[7.47,.217],
[7.51,.302],[7.53,.276],[7.55,.327],[7.57,.263],[7.59,.311],[7.61,.252],[7.63,.298],[7.65,.269],[7.67,.321],[7.69,.289],
[7.71,.256],[7.73,.304],[7.75,.276],[7.77,.249],[7.79,.316],[7.81,.283],[7.83,.326],[7.85,.255],[7.87,.295],[7.89,.266],
[7.91,.314],[7.93,.241],[7.95,.303],[7.97,.276],[7.99,.251],[7.52,.347],[7.6,.338],[7.68,.353],[7.76,.341],[7.84,.332],
[7.92,.346],[7.56,.232],[7.64,.228],[7.72,.236],[7.8,.226],[7.88,.231],[7.96,.221],
[8.02,.298],[8.04,.271],[8.07,.323],[8.09,.259],[8.12,.307],[8.14,.248],[8.17,.294],[8.19,.266],[8.22,.317],[8.24,.284],
[8.27,.252],[8.29,.299],[8.32,.272],[8.34,.245],[8.37,.311],[8.39,.279],[8.42,.321],[8.44,.251],[8.47,.291],[8.49,.262],
[8.06,.342],[8.16,.335],[8.26,.348],[8.36,.339],[8.46,.329],[8.1,.229],[8.25,.231],[8.4,.226],
[8.52,.297],[8.56,.268],[8.6,.311],[8.64,.254],[8.68,.289],[8.72,.264],[8.76,.315],[8.8,.279],[8.84,.248],[8.58,.336],
[8.7,.342],[8.82,.331],[8.62,.231],[8.78,.227],
// solid centre of the cloud
[3.9,.417],[3.91,.352],[3.92,.469],[3.93,.365],[3.94,.43],[3.95,.378],[3.96,.456],[3.97,.391],[3.98,.443],[3.99,.404],
[4.0,.395],[4.01,.434],[4.02,.447],[4.03,.382],[4.04,.369],[4.05,.356],[4.06,.343],[4.07,.408],[4.08,.421],[4.09,.46],
[4.1,.349],[4.11,.362],[4.12,.401],[4.13,.414],[4.14,.336],[4.15,.453],[4.16,.375],[4.17,.44],[4.18,.427],[4.19,.388],
[4.2,.393],[4.21,.328],[4.22,.445],[4.23,.341],[4.24,.406],[4.25,.354],[4.26,.432],[4.27,.367],[4.28,.419],[4.29,.38],
[4.3,.373],[4.31,.412],[4.32,.425],[4.33,.36],[4.34,.347],[4.35,.334],[4.36,.321],[4.37,.386],[4.38,.399],[4.39,.438],
[4.4,.327],[4.41,.34],[4.42,.379],[4.43,.392],[4.44,.314],[4.45,.431],[4.46,.353],[4.47,.418],[4.48,.405],[4.49,.366],
[4.5,.372],[4.51,.307],[4.52,.424],[4.53,.32],[4.54,.385],[4.55,.333],[4.56,.411],[4.57,.346],[4.58,.398],[4.59,.359],
[4.6,.352],[4.61,.391],[4.62,.404],[4.63,.339],[4.64,.326],[4.65,.313],[4.66,.30],[4.67,.365],[4.68,.378],[4.69,.417],
[4.7,.307],[4.71,.32],[4.72,.359],[4.73,.372],[4.74,.294],[4.75,.411],[4.76,.333],[4.77,.398],[4.78,.385],[4.79,.346],
[4.8,.354],[4.81,.289],[4.82,.406],[4.83,.302],[4.84,.367],[4.85,.315],[4.86,.393],[4.87,.328],[4.88,.38],[4.89,.341],
[4.9,.335],[4.91,.374],[4.92,.387],[4.93,.322],[4.94,.309],[4.95,.296],[4.96,.283],[4.97,.348],[4.98,.361],[4.99,.40],
[5.0,.291],[5.01,.304],[5.02,.343],[5.03,.356],[5.04,.278],[5.05,.395],[5.06,.317],[5.07,.382],[5.08,.369],[5.09,.33],
[5.1,.339],[5.11,.274],[5.12,.391],[5.13,.287],[5.14,.352],[5.15,.30],[5.16,.378],[5.17,.313],[5.18,.365],[5.19,.326],
[5.2,.322],[5.21,.361],[5.22,.374],[5.23,.309],[5.24,.296],[5.25,.283],[5.26,.27],[5.27,.335],[5.28,.348],[5.29,.387],
[5.3,.278],[5.31,.291],[5.32,.33],[5.33,.343],[5.34,.265],[5.35,.382],[5.36,.304],[5.37,.369],[5.38,.356],[5.39,.317],
[5.4,.327],[5.41,.262],[5.42,.379],[5.43,.275],[5.44,.34],[5.45,.288],[5.46,.366],[5.47,.301],[5.48,.353],[5.49,.314],
[5.5,.311],[5.51,.35],[5.52,.363],[5.53,.298],[5.54,.285],[5.55,.272],[5.56,.259],[5.57,.324],[5.58,.337],[5.59,.376],
[5.6,.268],[5.61,.281],[5.62,.32],[5.63,.333],[5.64,.255],[5.65,.372],[5.66,.294],[5.67,.359],[5.68,.346],[5.69,.307],
[5.7,.317],[5.71,.252],[5.72,.369],[5.73,.265],[5.74,.33],[5.75,.278],[5.76,.356],[5.77,.291],[5.78,.343],[5.79,.304],
[5.8,.302],[5.81,.341],[5.82,.354],[5.83,.289],[5.84,.276],[5.85,.263],[5.86,.25],[5.87,.315],[5.88,.328],[5.89,.367],
[5.9,.26],[5.91,.273],[5.92,.312],[5.93,.325],[5.94,.247],[5.95,.364],[5.96,.286],[5.97,.351],[5.98,.338],[5.99,.299],
[6.0,.309],[6.01,.244],[6.02,.361],[6.03,.257],[6.04,.322],[6.05,.27],[6.06,.348],[6.07,.283],[6.08,.335],[6.09,.296],
[6.1,.293],[6.11,.332],[6.12,.345],[6.13,.28],[6.14,.267],[6.15,.254],[6.16,.241],[6.17,.306],[6.18,.319],[6.19,.358],
[6.2,.252],[6.21,.265],[6.22,.304],[6.23,.317],[6.24,.239],[6.25,.356],[6.26,.278],[6.27,.343],[6.28,.33],[6.29,.291],
[6.3,.302],[6.31,.237],[6.32,.354],[6.33,.25],[6.34,.315],[6.35,.263],[6.36,.341],[6.37,.276],[6.38,.328],[6.39,.289],
[6.4,.286],[6.41,.325],[6.42,.338],[6.43,.273],[6.44,.26],[6.45,.247],[6.46,.234],[6.47,.299],[6.48,.312],[6.49,.351],
[6.5,.245],[6.51,.258],[6.52,.297],[6.53,.31],[6.54,.232],[6.55,.349],[6.56,.271],[6.57,.336],[6.58,.323],[6.59,.284],
[6.6,.295],[6.61,.23],[6.62,.347],[6.63,.243],[6.64,.308],[6.65,.256],[6.66,.334],[6.67,.269],[6.68,.321],[6.69,.282],
[6.7,.28],[6.71,.319],[6.72,.332],[6.73,.267],[6.74,.254],[6.75,.241],[6.76,.228],[6.77,.293],[6.78,.306],[6.79,.345],
[6.8,.24],[6.81,.253],[6.82,.292],[6.83,.305],[6.84,.227],[6.85,.344],[6.86,.266],[6.87,.331],[6.88,.318],[6.89,.279],
[6.9,.291],[6.91,.226],[6.92,.343],[6.93,.239],[6.94,.304],[6.95,.252],[6.96,.33],[6.97,.265],[6.98,.317],[6.99,.278],
[7.0,.276],[7.01,.315],[7.02,.328],[7.03,.263],[7.04,.25],[7.05,.237],[7.06,.224],[7.07,.289],[7.08,.302],[7.09,.341],
[7.1,.236],[7.11,.249],[7.12,.288],[7.13,.301],[7.14,.223],[7.15,.34],[7.16,.262],[7.17,.327],[7.18,.314],[7.19,.275],
[7.2,.287],[7.21,.222],[7.22,.339],[7.23,.235],[7.24,.30],[7.25,.248],[7.26,.326],[7.27,.261],[7.28,.313],[7.29,.274],
[7.3,.273],[7.31,.312],[7.32,.325],[7.33,.26],[7.34,.247],[7.35,.234],[7.36,.221],[7.37,.286],[7.38,.299],[7.39,.338],
[7.4,.233],[7.41,.246],[7.42,.285],[7.43,.298],[7.44,.22],[7.45,.337],[7.46,.259],[7.47,.324],[7.48,.311],[7.49,.272],
[7.5,.284],[7.51,.219],[7.52,.336],[7.53,.232],[7.54,.297],[7.55,.245],[7.56,.323],[7.57,.258],[7.58,.31],[7.59,.271],
// edges of the dense band
[3.3,.462],[3.32,.412],[3.33,.512],[3.35,.437],[3.36,.487],[3.38,.425],[3.4,.429],[3.41,.479],[3.43,.404],[3.44,.454],
[3.46,.417],[3.47,.504],[3.5,.447],[3.52,.397],[3.53,.497],[3.55,.422],[3.56,.472],[3.58,.41],[3.6,.415],[3.61,.465],
[3.63,.39],[3.64,.44],[3.66,.403],[3.67,.49],[3.7,.433],[3.72,.383],[3.73,.483],[3.75,.408],[3.76,.458],[3.78,.396],
[3.8,.401],[3.81,.451],[3.83,.376],[3.84,.426],[3.86,.389],[3.87,.476],[3.35,.371],[3.45,.362],[3.55,.355],[3.65,.348],
[3.75,.339],[3.85,.331],[3.89,.368],[3.79,.358],
[7.6,.283],[7.61,.231],[7.62,.322],[7.63,.255],[7.64,.297],[7.66,.242],[7.67,.31],[7.68,.269],[7.7,.277],[7.71,.224],
[7.72,.318],[7.73,.247],[7.75,.291],[7.76,.236],[7.77,.305],[7.79,.262],[7.8,.272],[7.82,.298],[7.83,.239],[7.85,.313],
[7.86,.251],[7.88,.284],[7.89,.228],[7.9,.301],[7.92,.258],[7.93,.289],[7.95,.234],[7.96,.317],[7.98,.264],[8.0,.279],
[8.03,.244],[8.05,.308],[8.08,.268],[8.11,.233],[8.13,.292],[8.16,.256],[8.18,.314],[8.21,.241],[8.23,.297],[8.26,.27],
[8.28,.309],
[1.52,.497],[1.57,.536],[1.61,.662],[1.66,.557],[1.7,.521],[1.73,.628],[1.79,.508],[1.83,.537],[1.86,.612],[1.91,.556],
[1.95,.493],[1.99,.641],[2.04,.578],[2.07,.505],[2.12,.546],[2.15,.598],[2.2,.457],[2.24,.552],[2.28,.491],[2.32,.573],
[2.35,.506],[2.39,.482],[2.42,.542],[2.47,.528],[2.5,.463],[2.55,.521],[2.58,.457],[2.62,.554],[2.65,.493],[2.7,.518],
[2.73,.569],[2.77,.451],[2.8,.531],[2.85,.486],[2.88,.513],[2.92,.507],[2.95,.438],[2.99,.547],[3.03,.452],[3.06,.531],
[3.1,.477],[3.14,.428],[3.18,.503],[3.22,.541],[3.26,.449],[3.05,.418],[3.15,.447],[3.25,.398],[2.75,.438],[2.45,.451]
];

const FONT = '"Liberation Sans", Arial, Helvetica, sans-serif';
const FONT_SIZE = 25;
const toXY = pts => pts.map(p => ({ x: p[0], y: p[1] }));

// box around the plot region, rotated y tick labels, legend
const frame = {
  id: 'frame',
  afterDraw(chart) {
    const { ctx, chartArea: a, scales } = chart;
    ctx.save();
    ctx.strokeStyle = '#000';
    ctx.lineWidth = 1.6;
    ctx.strokeRect(a.left, a.top, a.right - a.left, a.bottom - a.top);

    // y tick labels, parallel to the axis like R
    ctx.fillStyle = '#000';
    ctx.font = FONT_SIZE + 'px ' + FONT;
    ctx.textAlign = 'center';
    ctx.textBaseline = 'middle';
    yTicks.forEach((v, i) => {
      const py = scales.y.getPixelForValue(v);
      ctx.save();
      ctx.translate(78, py);
      ctx.rotate(-Math.PI / 2);
      ctx.fillText(yTickLabels[i], 0, 0);
      ctx.restore();
    });

    // legend box, top right
    const lx = 1000, ly = a.top, lw = a.right - lx, lh = 89;
    ctx.fillStyle = '#fff';
    ctx.fillRect(lx, ly, lw, lh);
    ctx.strokeRect(lx, ly, lw, lh);
    const items = [chart.data.datasets[2], chart.data.datasets[1]];
    items.forEach((ds, i) => {
      const cy = ly + 30 + i * 30;
      ctx.fillStyle = ds.backgroundColor;
      ctx.beginPath();
      ctx.arc(lx + 22, cy, 5.5, 0, Math.PI * 2);
      ctx.fill();
      ctx.fillStyle = '#000';
      ctx.textAlign = 'left';
      ctx.fillText(ds.label, lx + 45, cy + 1);
    });
    ctx.restore();
  }
};

new Chart(document.getElementById('plot'), {
  type: 'scatter',
  data: {
    datasets: [
      {
        type: 'line',
        label: 'trend',
        data: trendX.map((x, i) => ({ x: x, y: trendY[i] })),
        borderColor: '#0000FF',
        borderWidth: 1.5,
        pointRadius: 0,
        fill: false,
        cubicInterpolationMode: 'monotone',
        order: 0
      },
      {
        label: seriesNames[1],
        data: toXY(outlierPts),
        backgroundColor: '#FF0000',
        borderWidth: 0,
        pointStyle: 'rect',
        pointRadius: 2.4,
        order: 1
      },
      {
        label: seriesNames[0],
        data: toXY(normalPts),
        backgroundColor: '#000000',
        borderWidth: 0,
        pointStyle: 'rect',
        pointRadius: 2.4,
        order: 2
      }
    ]
  },
  options: {
    responsive: false,
    animation: false,
    devicePixelRatio: 1,
    layout: { padding: { left: 0, right: 63, top: 123, bottom: 0 } },
    plugins: { legend: { display: false }, tooltip: { enabled: false } },
    scales: {
      x: {
        type: 'linear',
        min: 0.435,
        max: 14.23,
        afterBuildTicks: s => { s.ticks = xTicks.map(v => ({ value: v })); },
        afterFit: s => { s.height = 153; },
        border: { display: false },
        grid: { drawOnChartArea: false, drawTicks: true, tickLength: 15, color: '#000', lineWidth: 1.6 },
        ticks: {
          color: '#000', padding: 17, autoSkip: false, maxRotation: 0,
          font: { family: FONT, size: FONT_SIZE },
          callback: (v, i) => xTickLabels[i]
        },
        title: {
          display: true, text: 'Average log-expression', color: '#000',
          font: { family: FONT, size: FONT_SIZE }, padding: { top: 0, bottom: 31 }
        }
      },
      y: {
        type: 'linear',
        min: 0.074,
        max: 1.857,
        afterBuildTicks: s => { s.ticks = yTicks.map(v => ({ value: v })); },
        afterFit: s => { s.width = 123; },
        border: { display: false },
        grid: { drawOnChartArea: false, drawTicks: true, tickLength: 15, color: '#000', lineWidth: 1.6 },
        ticks: { display: false },
        title: {
          display: true, text: 'sqrt(sigma)', color: '#000',
          font: { family: FONT, size: FONT_SIZE }, padding: { top: 4, bottom: 0 }
        }
      }
    }
  },
  plugins: [frame]
});
</script>
</body>
</html>
